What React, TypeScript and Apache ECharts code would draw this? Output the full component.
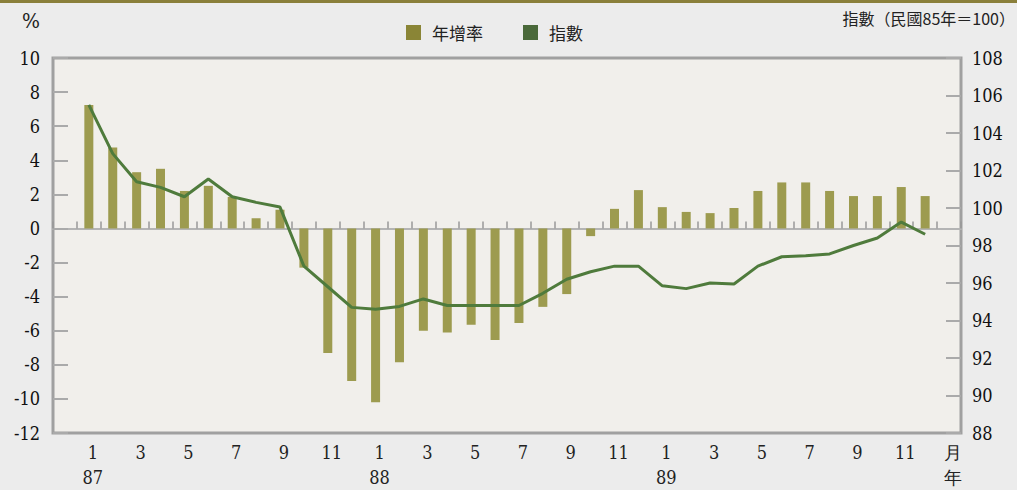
import React, { useEffect, useRef } from "react";
import * as echarts from "echarts";

const categories: string[] = [
  "",
  "1\n87", "2", "3", "4", "5", "6", "7", "8", "9", "10", "11", "12",
  "1\n88", "2", "3", "4", "5", "6", "7", "8", "9", "10", "11", "12",
  "1\n89", "2", "3", "4", "5", "6", "7", "8", "9", "10", "11", "12",
  "月\n年",
];

const growthRate: (number | null)[] = [
  null,
  7.25, 4.75, 3.3, 3.5, 2.2, 2.5, 1.85, 0.6, 1.1, -2.3, -7.3, -8.95,
  -10.2, -7.85, -6.0, -6.1, -5.65, -6.55, -5.55, -4.6, -3.85, -0.45, 1.15, 2.25,
  1.25, 0.97, 0.9, 1.2, 2.2, 2.7, 2.7, 2.2, 1.9, 1.9, 2.43, 1.9,
  null,
];

const indexValues: (number | null)[] = [
  null,
  105.5, 102.9, 101.4, 101.1, 100.6, 101.55, 100.6, 100.3, 100.05, 96.9, 95.8, 94.7,
  94.6, 94.75, 95.15, 94.8, 94.8, 94.8, 94.8, 95.45, 96.2, 96.6, 96.9, 96.9,
  95.85, 95.7, 96.0, 95.95, 96.9, 97.4, 97.45, 97.55, 98.0, 98.4, 99.25, 98.6,
  null,
];

const legendNames = ["年增率", "指數"];

const SERIF = "DejaVu Serif Condensed";
const CJK = "Noto Sans CJK TC";

export default function App() {
  const ref = useRef<HTMLDivElement>(null);
  useEffect(() => {
    if (!ref.current) return;
    const chart = echarts.init(ref.current, null, { renderer: "svg" });
    const option: any = {
      animation: false,
      backgroundColor: "#ececec",
      textStyle: { fontFamily: SERIF },
      legend: {
        data: [
          { name: legendNames[0], itemStyle: { color: "#8a8536" } },
          { name: legendNames[1], itemStyle: { color: "#4a693a" } },
        ],
        left: 401,
        top: 19,
        icon: "rect",
        itemWidth: 15,
        itemHeight: 15,
        itemGap: 40,
        textStyle: { fontFamily: CJK, fontSize: 17, color: "#222", padding: [0, 0, 0, 6] },
        selectedMode: false,
      },
      graphic: [
        { type: "rect", shape: { x: 0, y: 0, width: 1017, height: 3 }, style: { fill: "#8a7f3a" } },
        { type: "text", left: 22, top: 10, style: { text: "%", fontFamily: SERIF, fontSize: 21, fill: "#222" } },
        {
          type: "text", right: 2, top: 10,
          style: { text: "指數（民國85年＝100）", fontFamily: CJK, fontSize: 16, fill: "#222" },
        },
      ],
      grid: {
        left: 53,
        right: 56,
        top: 58,
        bottom: 56,
        show: true,
        backgroundColor: "#f1efeb",
        borderColor: "#a0a0a0",
        borderWidth: 3,
        containLabel: false,
      },
      xAxis: [
        {
          type: "category",
          data: categories,
          position: "bottom",
          boundaryGap: true,
          axisLine: { show: false, onZero: false },
          axisTick: { show: false },
          axisLabel: {
            interval: (i: number) => {
              if (i === 37) return true;
              if (i < 1 || i > 36) return false;
              return ((i - 1) % 12) % 2 === 0;
            },
            fontFamily: SERIF,
            fontSize: 18,
            color: "#222",
            lineHeight: 25,
            margin: 7,
            padding: [0, 0, 0, 8],
          },
        },
        {
          type: "category",
          data: categories,
          position: "bottom",
          boundaryGap: true,
          axisLine: { show: true, onZero: true, onZeroAxisIndex: 0, lineStyle: { color: "#b4b4b4", width: 2 } },
          axisTick: { show: true, inside: true, length: 7, interval: 0, lineStyle: { color: "#999", width: 1.5 } },
          axisLabel: { show: false },
        },
      ],
      yAxis: [
        {
          type: "value",
          min: -12,
          max: 10,
          interval: 2,
          position: "left",
          axisLine: { show: false },
          axisTick: { show: true, inside: true, length: 15, lineStyle: { color: "#aaa", width: 2 } },
          splitLine: { show: false },
          axisLabel: { fontFamily: SERIF, fontSize: 18, color: "#111", margin: 13 },
        },
        {
          type: "value",
          min: 88,
          max: 108,
          interval: 2,
          position: "right",
          axisLine: { show: false },
          axisTick: { show: true, inside: true, length: 15, lineStyle: { color: "#aaa", width: 2 } },
          splitLine: { show: false },
          axisLabel: { fontFamily: SERIF, fontSize: 18, color: "#111", margin: 11 },
        },
      ],
      series: [
        {
          name: legendNames[0],
          type: "bar",
          xAxisIndex: 0,
          yAxisIndex: 0,
          data: growthRate,
          barWidth: 9,
          itemStyle: { color: "#9d9b4f" },
        },
        {
          name: legendNames[1],
          type: "line",
          xAxisIndex: 0,
          yAxisIndex: 1,
          data: indexValues,
          showSymbol: false,
          symbol: "none",
          lineStyle: { color: "#4f7b3c", width: 3 },
          itemStyle: { color: "#4a693a" },
          z: 5,
        },
      ],
    };
    chart.setOption(option);
    return () => chart.dispose();
  }, []);
  return <div ref={ref} style={{ width: 1017, height: 490, position: "absolute", left: 0, top: 0 }} />;
}
